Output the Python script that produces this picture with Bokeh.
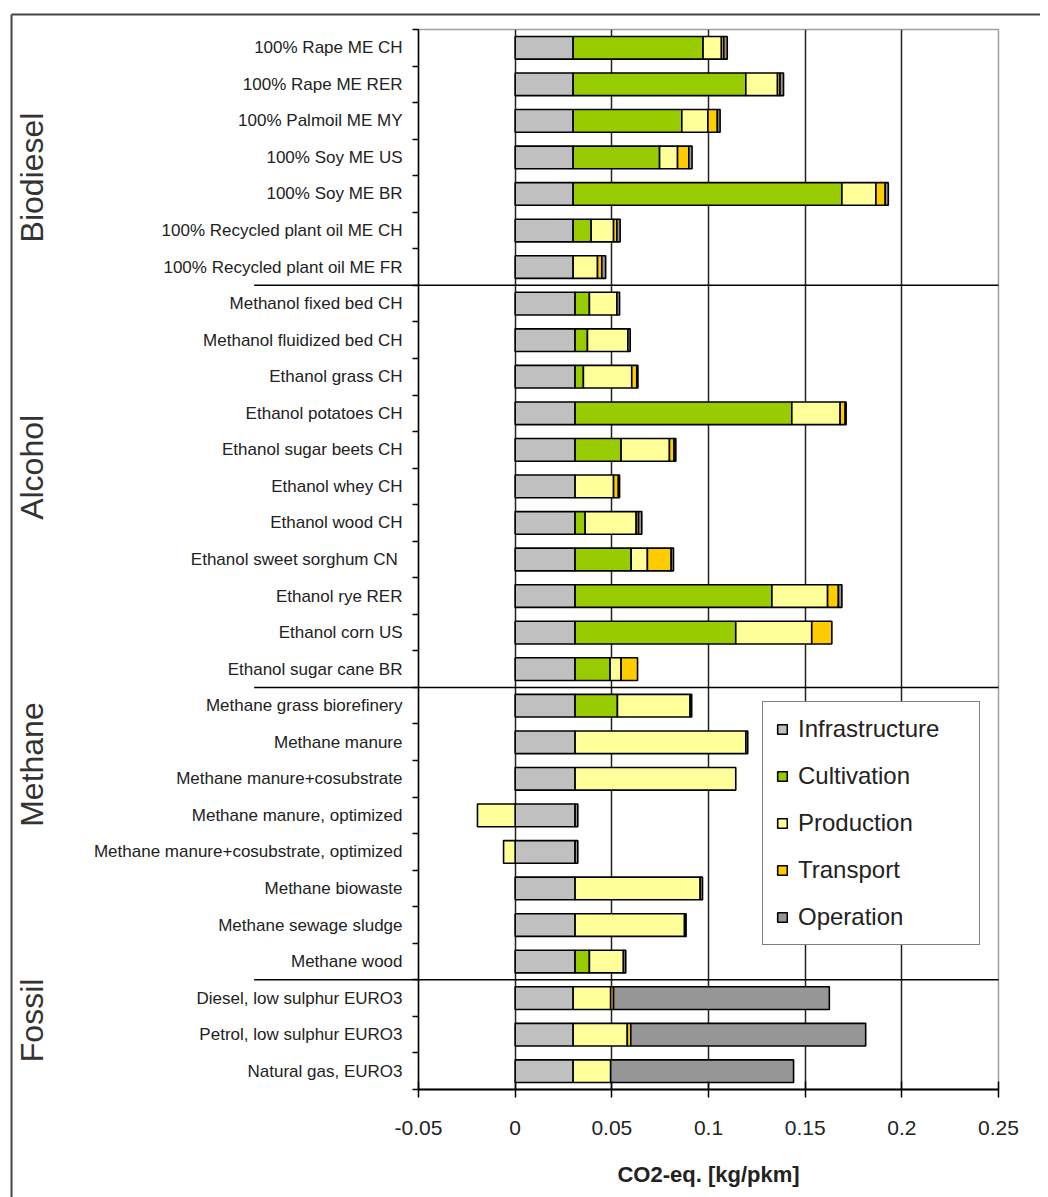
import numpy as np
from bokeh.plotting import figure
from bokeh.models import ColumnDataSource, Range1d, FixedTicker, Legend, LegendItem, NumeralTickFormatter
from bokeh.embed import file_html
from bokeh.resources import INLINE
from bokeh.core.properties import value

# ---------------- data ----------------
categories = [
    "100% Rape ME CH", "100% Rape ME RER", "100% Palmoil ME MY", "100% Soy ME US",
    "100% Soy ME BR", "100% Recycled plant oil ME CH", "100% Recycled plant oil ME FR",
    "Methanol fixed bed CH", "Methanol fluidized bed CH", "Ethanol grass CH",
    "Ethanol potatoes CH", "Ethanol sugar beets CH", "Ethanol whey CH", "Ethanol wood CH",
    "Ethanol sweet sorghum  CN", "Ethanol rye RER", "Ethanol corn US", "Ethanol sugar cane BR",
    "Methane grass biorefinery", "Methane manure", "Methane manure+cosubstrate",
    "Methane manure, optimized", "Methane manure+cosubstrate, optimized",
    "Methane biowaste", "Methane sewage sludge", "Methane wood",
    "Diesel, low sulphur EURO3", "Petrol, low sulphur EURO3", "Natural gas, EURO3",
]
groups = ["Biodiesel", "Alcohol", "Methane", "Fossil"]
group_sizes = [7, 11, 8, 3]

infrastructure = [0.030, 0.030, 0.030, 0.030, 0.030, 0.030, 0.030,
                  0.031, 0.031, 0.031, 0.031, 0.031, 0.031, 0.031, 0.031, 0.031, 0.031, 0.031,
                  0.031, 0.031, 0.031, 0.031, 0.031, 0.031, 0.031, 0.031,
                  0.030, 0.030, 0.030]
cultivation = [0.0672, 0.0893, 0.0562, 0.0447, 0.1390, 0.0093, 0.0,
               0.0074, 0.0064, 0.0043, 0.1121, 0.0238, 0.0, 0.0052, 0.0290, 0.1018, 0.0831, 0.0181,
               0.0219, 0.0, 0.0, 0.0, 0.0, 0.0, 0.0, 0.0074,
               0.0, 0.0, 0.0]
production = [0.0095, 0.0164, 0.0135, 0.0093, 0.0176, 0.0116, 0.0126,
              0.0142, 0.0209, 0.0250, 0.0250, 0.0250, 0.0199, 0.0264, 0.0084, 0.0288, 0.0393, 0.0057,
              0.0376, 0.0883, 0.0831, -0.0195, -0.0060, 0.0647, 0.0566, 0.0176,
              0.0194, 0.0280, 0.0194]
transport = [0.0012, 0.0013, 0.0049, 0.0058, 0.0048, 0.0017, 0.0022,
             0.0, 0.0, 0.0026, 0.0026, 0.0024, 0.0025, 0.0012, 0.0123, 0.0056, 0.0104, 0.0085,
             0.0, 0.0, 0.0, 0.0, 0.0, 0.0, 0.0, 0.0,
             0.0015, 0.0018, 0.0]
operation = [0.0018, 0.0018, 0.0014, 0.0017, 0.0016, 0.0017, 0.0020,
             0.0014, 0.0012, 0.0006, 0.0005, 0.0009, 0.0006, 0.0017, 0.0012, 0.0018, 0.0, 0.0,
             0.0008, 0.0010, 0.0, 0.0014, 0.0014, 0.0012, 0.0008, 0.0012,
             0.1116, 0.1215, 0.0946]

components = ["Infrastructure", "Cultivation", "Production", "Transport", "Operation"]
colors = ["#C0C0C0", "#99CC00", "#FFFF99", "#FFCC00", "#969696"]
x_ticks = [-0.05, 0, 0.05, 0.1, 0.15, 0.2, 0.25]
x_label = "CO2-eq. [kg/pkm]"

# layout helpers (positions of decorations, in data units)
group_label_x = -0.25
group_label_rows = [4.05, 11.98, 20.11, 27.11]
separator_x0 = -0.135
frame_left_x = -0.2605
frame_top_y = -0.41

FONT = "Liberation Sans"
n = len(categories)

p = figure(width=1040, height=1197,
           x_range=Range1d(-0.05, 0.25), y_range=Range1d(n, 0),
           output_backend="svg", toolbar_location=None,
           min_border_left=418, min_border_right=42,
           min_border_top=29, min_border_bottom=108)
p.background_fill_color = "white"
p.border_fill_color = "white"
p.outline_line_color = "#A0A0A0"
p.outline_line_width = 1.5

# grid
p.ygrid.visible = False
p.xgrid.ticker = FixedTicker(ticks=[0, 0.05, 0.1, 0.15, 0.2])
p.xgrid.grid_line_color = "#222222"
p.xgrid.grid_line_width = 1.5

# bars
ys = np.arange(n) + 0.5
pos = np.zeros(n)
neg = np.zeros(n)
items = []
for name, vals, col in zip(components, [infrastructure, cultivation, production, transport, operation], colors):
    v = np.array(vals, dtype=float)
    left = np.where(v >= 0, pos, neg + v)
    right = np.where(v >= 0, pos + v, neg)
    pos = np.where(v >= 0, pos + v, pos)
    neg = np.where(v < 0, neg + v, neg)
    m = v != 0
    src = ColumnDataSource(dict(y=ys[m], left=left[m], right=right[m]))
    r = p.hbar(y="y", left="left", right="right", height=0.62, source=src,
               fill_color=col, line_color="black", line_width=1.6)
    items.append(LegendItem(label=name, renderers=[r]))

legend = Legend(items=items, location=(344, 144))
legend.label_text_font = FONT
legend.label_text_font_size = "24px"
legend.label_text_color = "#222222"
legend.glyph_width = 12
legend.glyph_height = 12
legend.label_standoff = 10
legend.spacing = 19
legend.padding = 13
legend.margin = 0
legend.label_width = 168
legend.border_line_color = "black"
legend.border_line_width = 1.5
legend.background_fill_color = "white"
legend.background_fill_alpha = 1.0
p.add_layout(legend)

# x axis
xa = p.xaxis[0]
xa.ticker = FixedTicker(ticks=x_ticks)
xa.formatter = NumeralTickFormatter(format="0.[00]")
xa.major_tick_in = 8
xa.major_tick_out = 8
xa.minor_tick_line_color = None
xa.major_tick_line_color = "black"
xa.major_tick_line_width = 1.5
xa.axis_line_color = "black"
xa.axis_line_width = 2
xa.major_label_text_font = FONT
xa.major_label_text_font_size = "21px"
xa.major_label_text_color = "#222222"
xa.major_label_standoff = 23
xa.axis_label = x_label
xa.axis_label_text_font = FONT
xa.axis_label_text_font_size = "22px"
xa.axis_label_text_font_style = "bold"
xa.axis_label_text_color = "#222222"
xa.axis_label_standoff = 24

# y axis
ya = p.yaxis[0]
ya.ticker = FixedTicker(ticks=list(ys), minor_ticks=list(range(n + 1)))
ya.major_label_overrides = {float(y): c for y, c in zip(ys, categories)}
ya.major_tick_in = 0
ya.major_tick_out = 0
ya.major_tick_line_color = None
ya.minor_tick_in = 0
ya.minor_tick_out = 6
ya.minor_tick_line_color = "black"
ya.minor_tick_line_width = 1.5
ya.axis_line_color = "black"
ya.axis_line_width = 1.5
ya.major_label_text_font = FONT
ya.major_label_text_font_size = "17px"
ya.major_label_text_color = "#222222"
ya.major_label_standoff = 10

# group separators
bounds = list(np.cumsum(group_sizes)[:-1].astype(float))
p.segment(x0=[separator_x0] * len(bounds), x1=[0.25] * len(bounds), y0=bounds, y1=bounds,
          line_color="black", line_width=1.5, level="overlay")

# group labels
p.text(x=[group_label_x] * len(groups), y=group_label_rows, text=groups, angle=np.pi / 2,
       text_align="center", text_baseline="middle", text_font=value(FONT),
       text_font_size="32px", text_color="#333333", level="overlay")

# outer frame (left and top edges)
p.segment(x0=[frame_left_x, frame_left_x], x1=[frame_left_x, 0.32],
          y0=[frame_top_y, frame_top_y], y1=[n + 4, frame_top_y],
          line_color="#444444", line_width=2, level="overlay")

open("out.html", "w").write(file_html(p, INLINE))
